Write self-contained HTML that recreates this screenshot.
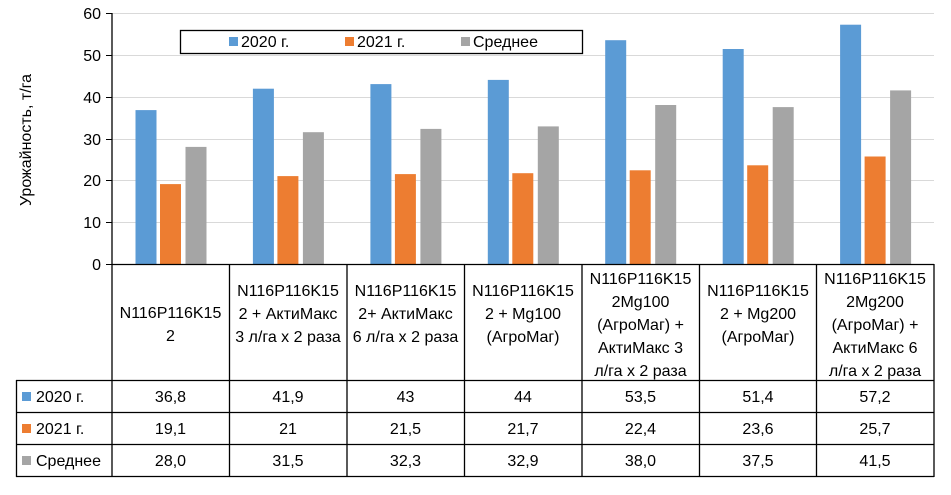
<!DOCTYPE html><html><head><meta charset="utf-8"><style>body{margin:0;background:#fff}svg{display:block}text{font-family:"Liberation Sans",sans-serif;fill:#000}</style></head><body>
<svg width="951" height="495" viewBox="0 0 951 495">
<g stroke="#d9d9d9" stroke-width="1">
<line x1="112" x2="934" y1="13.5" y2="13.5"/><line x1="112" x2="934" y1="55.5" y2="55.5"/><line x1="112" x2="934" y1="97.5" y2="97.5"/><line x1="112" x2="934" y1="139.5" y2="139.5"/><line x1="112" x2="934" y1="180.5" y2="180.5"/><line x1="112" x2="934" y1="222.5" y2="222.5"/>
</g>
<g font-size="16" text-anchor="end">
<text x="101" y="19">60</text><text x="101" y="61">50</text><text x="101" y="103">40</text><text x="101" y="145">30</text><text x="101" y="186">20</text><text x="101" y="228">10</text><text x="101" y="270">0</text>
</g>
<g stroke="#000"><line x1="106" x2="112" y1="13.5" y2="13.5"/><line x1="106" x2="112" y1="55.5" y2="55.5"/><line x1="106" x2="112" y1="97.5" y2="97.5"/><line x1="106" x2="112" y1="139.5" y2="139.5"/><line x1="106" x2="112" y1="180.5" y2="180.5"/><line x1="106" x2="112" y1="222.5" y2="222.5"/><line x1="106" x2="112" y1="264.5" y2="264.5"/></g>
<text transform="translate(31,140) rotate(-90)" font-size="16" text-anchor="middle">Урожайность, т/га</text>
<g fill="#5B9BD5">
<rect x="135.5" y="110.1" width="21" height="153.9"/><rect x="252.9" y="88.7" width="21" height="175.3"/><rect x="370.4" y="84.1" width="21" height="179.9"/><rect x="487.8" y="79.9" width="21" height="184.1"/><rect x="605.2" y="40.2" width="21" height="223.8"/><rect x="722.7" y="49" width="21" height="215"/><rect x="840.1" y="24.7" width="21" height="239.3"/>
</g>
<g fill="#ED7D31">
<rect x="160" y="184.1" width="21" height="79.9"/><rect x="277.4" y="176.1" width="21" height="87.9"/><rect x="394.9" y="174.1" width="21" height="89.9"/><rect x="512.3" y="173.2" width="21" height="90.8"/><rect x="629.7" y="170.3" width="21" height="93.7"/><rect x="747.2" y="165.3" width="21" height="98.7"/><rect x="864.6" y="156.5" width="21" height="107.5"/>
</g>
<g fill="#A5A5A5">
<rect x="185.5" y="146.9" width="21" height="117.1"/><rect x="302.9" y="132.2" width="21" height="131.8"/><rect x="420.4" y="128.9" width="21" height="135.1"/><rect x="537.8" y="126.4" width="21" height="137.6"/><rect x="655.2" y="105" width="21" height="159"/><rect x="772.7" y="107.1" width="21" height="156.9"/><rect x="890.1" y="90.4" width="21" height="173.6"/>
</g>
<rect x="180.5" y="30.5" width="402" height="23" fill="#fff" stroke="#000" stroke-width="1.3"/>
<rect x="229" y="37" width="9" height="9" fill="#5B9BD5"/><text x="241" y="47" font-size="16">2020 г.</text>
<rect x="345" y="37" width="9" height="9" fill="#ED7D31"/><text x="357" y="47" font-size="16">2021 г.</text>
<rect x="461" y="37" width="9" height="9" fill="#A5A5A5"/><text x="473" y="47" font-size="16">Среднее</text>
<g stroke="#000" stroke-width="1.3" fill="none">
<line x1="112" y1="13" x2="112" y2="476"/>
<line x1="112" y1="264.5" x2="934" y2="264.5"/>
<line x1="16" y1="380.5" x2="934" y2="380.5"/><line x1="16" y1="412.5" x2="934" y2="412.5"/><line x1="16" y1="444.5" x2="934" y2="444.5"/><line x1="16" y1="476.5" x2="934" y2="476.5"/>
<line x1="16.5" y1="380" x2="16.5" y2="477"/>
<line x1="229.5" y1="264" x2="229.5" y2="477"/><line x1="347" y1="264" x2="347" y2="477"/><line x1="464.5" y1="264" x2="464.5" y2="477"/><line x1="582" y1="264" x2="582" y2="477"/><line x1="699.5" y1="264" x2="699.5" y2="477"/><line x1="816.5" y1="264" x2="816.5" y2="477"/><line x1="934" y1="264" x2="934" y2="477"/>
</g>
<rect x="22" y="392" width="9" height="9" fill="#5B9BD5"/><text x="36" y="402" font-size="16">2020 г.</text>
<rect x="22" y="424" width="9" height="9" fill="#ED7D31"/><text x="36" y="434" font-size="16">2021 г.</text>
<rect x="22" y="456" width="9" height="9" fill="#A5A5A5"/><text x="36" y="466" font-size="16">Среднее</text>
<g font-size="16" text-anchor="middle" textLength="0">
<text x="170.5" y="318">N116P116K15</text><text x="170.5" y="341">2</text>
<text x="288" y="296">N116P116K15</text><text x="288" y="319">2 + АктиМакс</text><text x="288" y="342">3 л/га х 2 раза</text>
<text x="405.5" y="296">N116P116K15</text><text x="405.5" y="319">2+ АктиМакс</text><text x="405.5" y="342">6 л/га х 2 раза</text>
<text x="523" y="296">N116P116K15</text><text x="523" y="319">2 + Mg100</text><text x="523" y="342">(АгроMаг)</text>
<text x="640.5" y="284">N116P116K15</text><text x="640.5" y="307">2Mg100</text><text x="640.5" y="330">(АгроMаг) +</text><text x="640.5" y="353">АктиМакс 3</text><text x="640.5" y="376">л/га х 2 раза</text>
<text x="758" y="296">N116P116K15</text><text x="758" y="319">2 + Mg200</text><text x="758" y="342">(АгроMаг)</text>
<text x="875" y="284">N116P116K15</text><text x="875" y="307">2Mg200</text><text x="875" y="330">(АгроMаг) +</text><text x="875" y="353">АктиМакс 6</text><text x="875" y="376">л/га х 2 раза</text>
</g>
<g font-size="16" text-anchor="middle">
<text x="170.5" y="402">36,8</text><text x="170.5" y="434">19,1</text><text x="170.5" y="466">28,0</text>
<text x="288" y="402">41,9</text><text x="288" y="434">21</text><text x="288" y="466">31,5</text>
<text x="405.5" y="402">43</text><text x="405.5" y="434">21,5</text><text x="405.5" y="466">32,3</text>
<text x="523" y="402">44</text><text x="523" y="434">21,7</text><text x="523" y="466">32,9</text>
<text x="640.5" y="402">53,5</text><text x="640.5" y="434">22,4</text><text x="640.5" y="466">38,0</text>
<text x="758" y="402">51,4</text><text x="758" y="434">23,6</text><text x="758" y="466">37,5</text>
<text x="875" y="402">57,2</text><text x="875" y="434">25,7</text><text x="875" y="466">41,5</text>
</g>
</svg></body></html>
